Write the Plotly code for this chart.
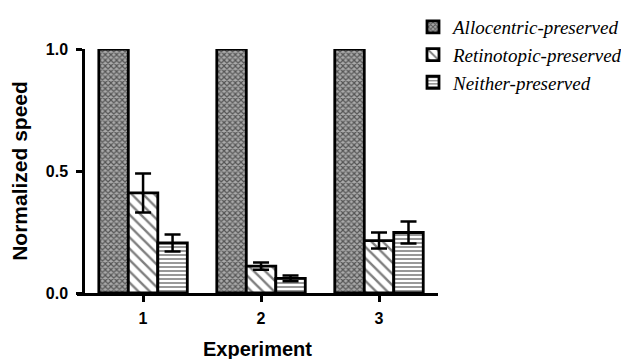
import plotly.graph_objects as go

experiments = [1, 2, 3]
tick_labels = ["1", "2", "3"]
series_names = ["Allocentric-preserved", "Retinotopic-preserved", "Neither-preserved"]
allocentric = [1.0, 1.0, 1.0]
allocentric_err = [0, 0, 0]
retinotopic = [0.41, 0.11, 0.215]
retinotopic_err = [0.08, 0.015, 0.033]
neither = [0.205, 0.06, 0.248]
neither_err = [0.035, 0.012, 0.045]

values = [allocentric, retinotopic, neither]
errors = [allocentric_err, retinotopic_err, neither_err]
patterns = [
    dict(shape="x", size=4, solidity=0.5, fgcolor="#000", bgcolor="#aaa", fillmode="overlay"),
    dict(shape="\\", size=8, solidity=0.3, fgcolor="#000", bgcolor="#fff", fillmode="overlay"),
    dict(shape="-", size=4, solidity=0.4, fgcolor="#000", bgcolor="#fff", fillmode="overlay"),
]

fig = go.Figure()
for name, vals, errs, pat in zip(series_names, values, errors, patterns):
    show_err = any(e > 0 for e in errs)
    fig.add_trace(go.Bar(
        x=experiments, y=vals, name=name,
        marker=dict(color="white", line=dict(color="black", width=2.8), pattern=pat),
        error_y=dict(type="data", array=errs, visible=show_err, color="black",
                     thickness=2.5, width=8),
        cliponaxis=False,
    ))

# page body has an 8px margin, so the figure is shifted by 8px; compensate
fig.update_layout(
    width=629, height=359,
    margin=dict(l=69, r=199, t=41, b=74, autoexpand=False),
    paper_bgcolor="white", plot_bgcolor="white",
    barmode="group", bargap=0.25, bargroupgap=0,
    font=dict(family="Liberation Sans, Arial", color="black"),
    legend=dict(
        xref="container", yref="container", x=405/629, y=1 + 7/359,
        xanchor="left", yanchor="top",
        font=dict(family="Liberation Serif, DejaVu Serif", size=19, style="italic"),
        bgcolor="rgba(0,0,0,0)", tracegroupgap=0, itemwidth=30,
    ),
    xaxis=dict(
        range=[0.44, 3.5], tickmode="array", tickvals=experiments, ticktext=tick_labels,
        showline=True, linecolor="black", linewidth=2.5, ticks="outside",
        ticklen=6, tickwidth=2.5, tickcolor="black", showgrid=False, zeroline=False,
        tickfont=dict(size=16, weight="bold"), automargin=False, ticklabelstandoff=3,
        title=dict(text="Experiment", font=dict(size=20, weight="bold"), standoff=17),
    ),
    yaxis=dict(
        range=[0, 1], tickvals=[0, 0.5, 1.0], ticktext=["0.0", "0.5", "1.0"],
        anchor="free", position=6/361,
        showline=True, linecolor="black", linewidth=2.5, ticks="outside",
        ticklen=6, tickwidth=2.5, tickcolor="black", showgrid=False, zeroline=False,
        tickfont=dict(size=16, weight="bold"), automargin=False, ticklabelstandoff=5,
        title=dict(text="Normalized speed", font=dict(size=21, weight="bold"), standoff=13),
    ),
)

fig.write_html("out.html")
